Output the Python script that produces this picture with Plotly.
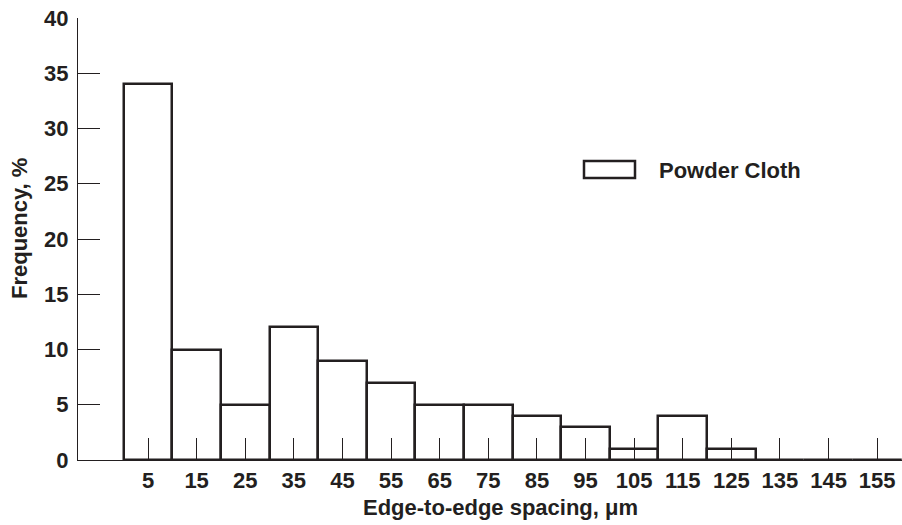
import plotly.graph_objects as go

# Data
bin_centers = [5, 15, 25, 35, 45, 55, 65, 75, 85, 95, 105, 115, 125, 135, 145, 155]
frequency = [34, 10, 5, 12, 9, 7, 5, 5, 4, 3, 1, 4, 1, 0, 0, 0]
y_ticks = [0, 5, 10, 15, 20, 25, 30, 35, 40]
series_name = "Powder Cloth"
x_title = "Edge-to-edge spacing, μm"
y_title = "Frequency, %"

INK = "#231f20"
FONT = dict(family="Liberation Sans, Arial, sans-serif", size=22, color=INK, weight="bold")

W, H = 902, 525
L, R, T, B = 78, 0, 18, 65
pw, ph = W - L - R, H - T - B

def px_to_paper_x(px):
    return (px - L) / pw

def px_to_paper_y(py):
    return (H - B - py) / ph

fig = go.Figure()
fig.add_trace(go.Bar(
    x=bin_centers, y=frequency, width=10,
    marker=dict(color="white", line=dict(color=INK, width=2.5)),
    name=series_name, showlegend=False,
))

fig.update_layout(
    width=W, height=H,
    margin=dict(l=L, r=R, t=T, b=B, pad=0, autoexpand=False),
    paper_bgcolor="white", plot_bgcolor="white",
    font=FONT,
    bargap=0,
    xaxis=dict(
        range=[-9.4, 160.1], automargin=False,
        tickvals=bin_centers, ticktext=[str(v) for v in bin_centers],
        ticks="inside", ticklen=22, tickwidth=1.3, tickcolor=INK,
        showline=True, linecolor=INK, linewidth=1.3,
        showgrid=False, zeroline=False,
        tickfont=FONT, ticklabelstandoff=0,
    ),
    yaxis=dict(
        range=[0, 40], automargin=False,
        tickvals=y_ticks,
        ticks="inside", ticklen=22, tickwidth=1.3, tickcolor=INK,
        showline=True, linecolor=INK, linewidth=1.3,
        showgrid=False, zeroline=False,
        tickfont=FONT, ticklabelstandoff=4,
    ),
    shapes=[dict(
        type="rect", xref="paper", yref="paper",
        x0=px_to_paper_x(584), x1=px_to_paper_x(635),
        y0=px_to_paper_y(178), y1=px_to_paper_y(161),
        line=dict(color=INK, width=2.5), fillcolor="white",
    )],
    annotations=[
        dict(text=series_name, xref="paper", yref="paper",
             x=px_to_paper_x(657), y=px_to_paper_y(170),
             xanchor="left", yanchor="middle", showarrow=False, font=FONT),
        dict(text=x_title, xref="paper", yref="paper",
             x=px_to_paper_x(500), y=px_to_paper_y(507),
             xanchor="center", yanchor="middle", showarrow=False, font=FONT),
        dict(text=y_title, xref="paper", yref="paper",
             x=px_to_paper_x(19), y=px_to_paper_y(229), textangle=-90,
             xanchor="center", yanchor="middle", showarrow=False, font=FONT),
    ],
)

fig.write_html(
    "out.html",
    config={"displayModeBar": False},
    post_script="document.body.style.margin='0';document.body.style.overflow='hidden';",
)
